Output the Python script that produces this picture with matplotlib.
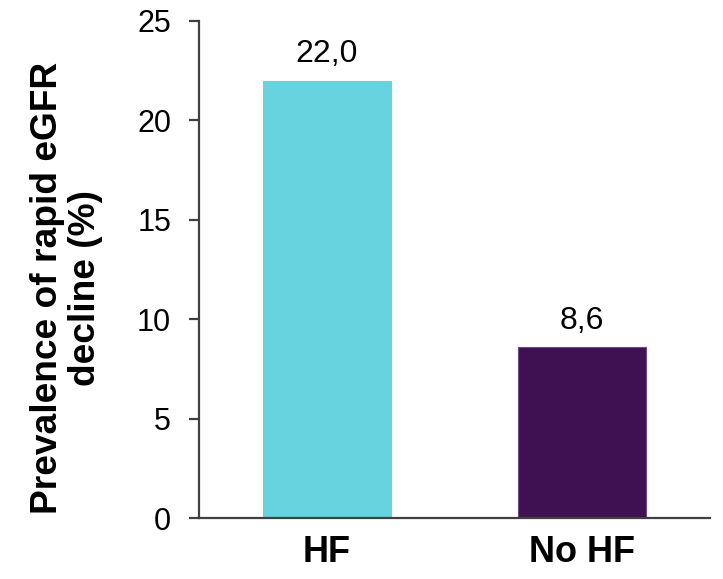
import matplotlib.pyplot as plt

plt.rcParams['font.family'] = ['Liberation Sans', 'DejaVu Sans']

groups = ['HF', 'No HF']
prevalence = [22.0, 8.6]
bar_colors = ['#66D3DF', '#3F1152']
edge_colors = ['#66D3DF', '#6E4A86']
yticks = [0, 5, 10, 15, 20, 25]

fig = plt.figure(figsize=(7.23, 5.79), dpi=100)
ax = fig.add_axes([0.275, 0.105, 0.707, 0.859])

bars = ax.bar(range(len(groups)), prevalence, width=0.5,
              color=bar_colors, edgecolor=edge_colors, linewidth=0.8)

# value labels with decimal comma
for x, v in enumerate(prevalence):
    ax.annotate(f'{v:.1f}'.replace('.', ','), (x, v), xytext=(0, 8),
                textcoords='offset points', ha='center', va='bottom',
                fontsize=23)

ax.set_xlim(-0.5, 1.5)
ax.set_ylim(0, 25)
ax.set_yticks(yticks)
ax.set_xticks(range(len(groups)))
ax.set_xticklabels(groups, fontsize=26, fontweight='bold')

for s in ['top', 'right']:
    ax.spines[s].set_visible(False)
for s in ['left', 'bottom']:
    ax.spines[s].set_color('#404040')
    ax.spines[s].set_linewidth(1.6)

ax.tick_params(axis='y', length=7, width=1.6, color='#404040',
               pad=13, labelsize=22)
ax.tick_params(axis='x', length=0, pad=12)

fig.text(0.092, 0.503, 'Prevalence of rapid eGFR\ndecline (%)',
         rotation=90, ha='center', va='center', fontsize=26.7,
         fontweight='bold', linespacing=1.12)

fig.savefig('out.png', dpi=100)
